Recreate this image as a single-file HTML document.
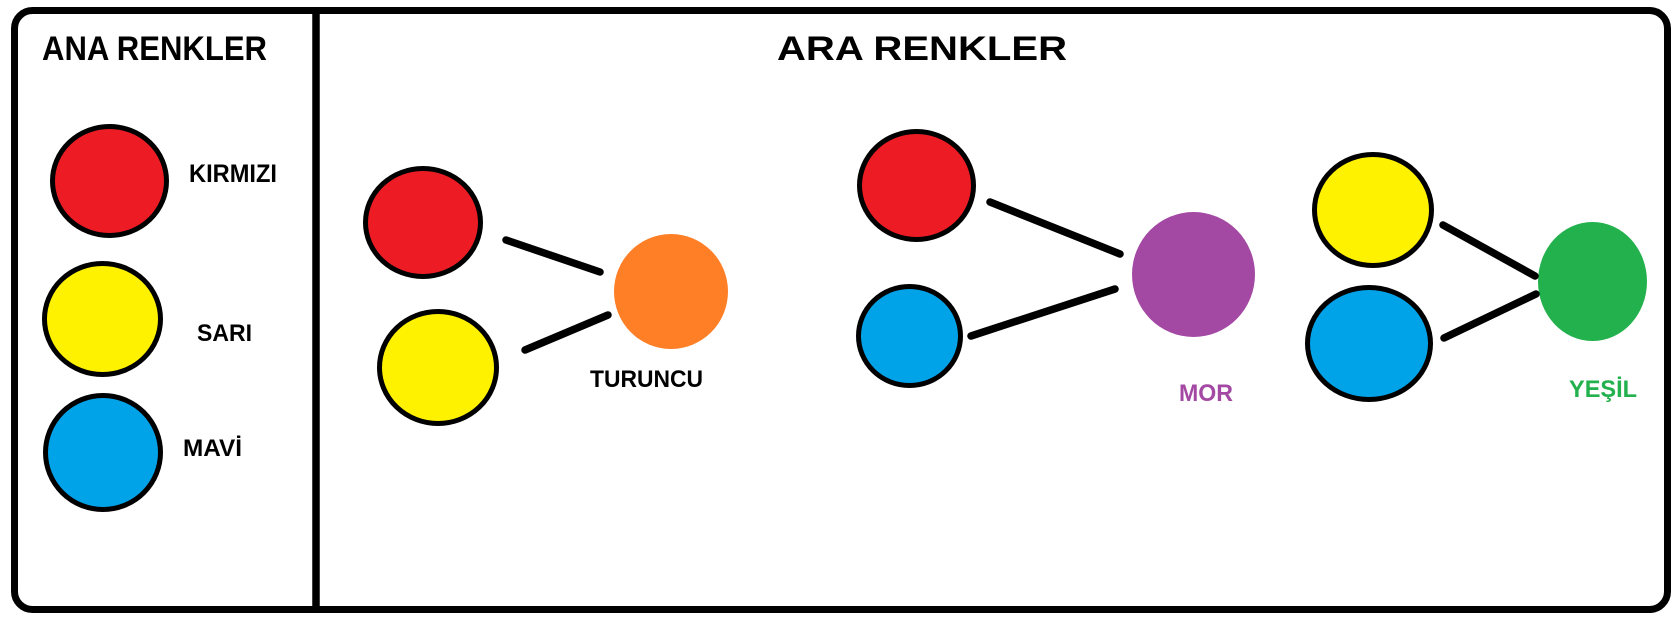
<!DOCTYPE html>
<html>
<head>
<meta charset="utf-8">
<style>
html,body{margin:0;padding:0;background:#fff;}
svg{display:block;}
text{font-family:"Liberation Sans",Arial,sans-serif;font-weight:bold;}
</style>
</head>
<body>
<svg width="1676" height="624" viewBox="0 0 1676 624" xmlns="http://www.w3.org/2000/svg">
  <rect x="0" y="0" width="1676" height="624" fill="#fff"/>
  <!-- outer frame -->
  <rect x="14.5" y="10.5" width="1653" height="599" rx="18" ry="18" fill="none" stroke="#000" stroke-width="7"/>
  <!-- divider -->
  <line x1="316" y1="10" x2="316" y2="610" stroke="#000" stroke-width="7.5"/>

  <!-- titles -->
  <text x="42" y="60" font-size="34" textLength="225" lengthAdjust="spacingAndGlyphs" fill="#000">ANA RENKLER</text>
  <text x="777" y="60" font-size="34" textLength="290" lengthAdjust="spacingAndGlyphs" fill="#000">ARA RENKLER</text>

  <!-- left: primary colours -->
  <ellipse cx="109.5" cy="181" rx="57" ry="54.5" fill="#ED1C24" stroke="#000" stroke-width="5"/>
  <ellipse cx="102.5" cy="319" rx="58" ry="55.5" fill="#FFF200" stroke="#000" stroke-width="5"/>
  <ellipse cx="103" cy="452.5" rx="57.5" ry="57" fill="#00A2E8" stroke="#000" stroke-width="5"/>
  <text x="189" y="182" font-size="25" textLength="88" lengthAdjust="spacingAndGlyphs" fill="#000">KIRMIZI</text>
  <text x="197" y="341" font-size="24" textLength="55" lengthAdjust="spacingAndGlyphs" fill="#000">SARI</text>
  <text x="183" y="456" font-size="24" textLength="59" lengthAdjust="spacingAndGlyphs" fill="#000">MAVİ</text>

  <!-- TURUNCU group -->
  <ellipse cx="423" cy="222.5" rx="57.5" ry="54" fill="#ED1C24" stroke="#000" stroke-width="5"/>
  <ellipse cx="438" cy="367.5" rx="58.5" ry="56" fill="#FFF200" stroke="#000" stroke-width="5"/>
  <ellipse cx="671" cy="291.5" rx="57" ry="57.5" fill="#FF7F27"/>
  <line x1="506" y1="240" x2="600" y2="272" stroke="#000" stroke-width="7.5" stroke-linecap="round"/>
  <line x1="525" y1="350" x2="608" y2="315" stroke="#000" stroke-width="7.5" stroke-linecap="round"/>
  <text x="590" y="387" font-size="24" textLength="113" lengthAdjust="spacingAndGlyphs" fill="#000">TURUNCU</text>

  <!-- MOR group -->
  <ellipse cx="916.5" cy="185.5" rx="57" ry="54" fill="#ED1C24" stroke="#000" stroke-width="5"/>
  <ellipse cx="909.5" cy="336" rx="51" ry="49.5" fill="#00A2E8" stroke="#000" stroke-width="5"/>
  <ellipse cx="1193.5" cy="274.5" rx="61.5" ry="62.5" fill="#A349A4"/>
  <line x1="990" y1="202" x2="1120" y2="254" stroke="#000" stroke-width="7.5" stroke-linecap="round"/>
  <line x1="971" y1="336" x2="1115" y2="289" stroke="#000" stroke-width="7.5" stroke-linecap="round"/>
  <text x="1179" y="401" font-size="24" textLength="54" lengthAdjust="spacingAndGlyphs" fill="#A349A4">MOR</text>

  <!-- YESIL group -->
  <ellipse cx="1373" cy="210" rx="58.5" ry="55.5" fill="#FFF200" stroke="#000" stroke-width="5"/>
  <ellipse cx="1369" cy="343.5" rx="61.5" ry="56" fill="#00A2E8" stroke="#000" stroke-width="5"/>
  <ellipse cx="1592.5" cy="281.5" rx="54.5" ry="59.5" fill="#22B14C"/>
  <line x1="1443" y1="225" x2="1535" y2="276" stroke="#000" stroke-width="7.5" stroke-linecap="round"/>
  <line x1="1444" y1="338" x2="1536" y2="294" stroke="#000" stroke-width="7.5" stroke-linecap="round"/>
  <text x="1569" y="397" font-size="24" textLength="68" lengthAdjust="spacingAndGlyphs" fill="#22B14C">YEŞİL</text>
</svg>
</body>
</html>
